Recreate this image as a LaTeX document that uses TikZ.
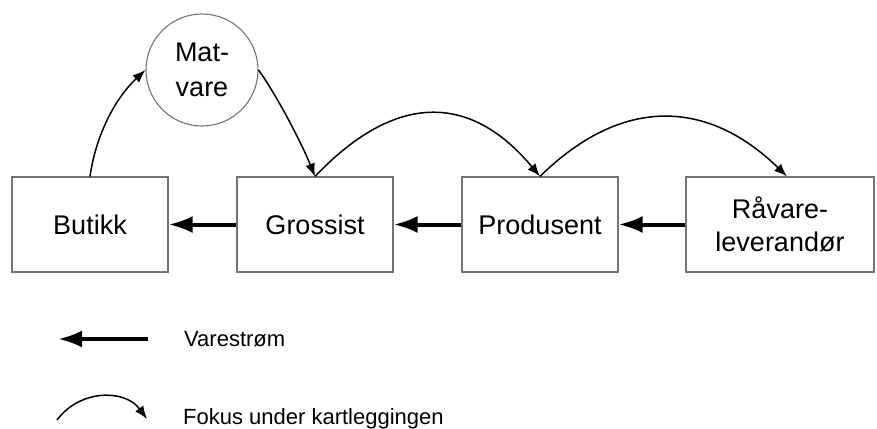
\documentclass[tikz,border=0pt]{standalone}
\usepackage{fontspec}
\setmainfont{Liberation Sans}
\usetikzlibrary{arrows.meta}
\tikzset{
  box/.style={draw=black!55, line width=1.1pt, minimum width=156pt, minimum height=95pt, inner sep=0pt, align=center, font=\fontsize{27}{33}\selectfont},
  circ/.style={circle, draw=black!55, line width=1.1pt, minimum size=112pt, inner sep=0pt, align=center, font=\fontsize{27}{35}\selectfont},
  flow/.style={line width=4pt, -{Latex[length=24pt,width=17pt]}},
  focus/.style={line width=1.5pt, -{Latex[length=13pt,width=10pt]}},
  legtext/.style={anchor=base west, inner sep=0pt, font=\fontsize{22}{26}\selectfont}
}
\begin{document}
\begin{tikzpicture}[x=1pt, y=-1pt]
\useasboundingbox (0,0) rectangle (877,428);
\node[box] (b) at (90,224.5) {Butikk};
\node[box] (g) at (315,224.5) {Grossist};
\node[box] (p) at (540,224.5) {Produsent};
\node[box, minimum width=188pt] (r) at (780,224.5) {Råvare-\\leverandør};
\node[circ] (m) at (202,70) {Mat-\\vare};
\draw[flow] (g.west) -- (b.east);
\draw[flow] (p.west) -- (g.east);
\draw[flow] (r.west) -- (p.east);
\draw[focus] (b.north) .. controls +(6,-42) and +(-30,28) .. (m.west);
\draw[focus] (m.east) .. controls +(20,28) and +(-12,-30) .. (g.north);
\draw[focus] (g.north) .. controls +(80,-84) and +(-70,-84) .. (p.north);
\draw[focus] (p.north) .. controls +(80,-79) and +(-81,-79) .. ([xshift=7pt]r.north);
\coordinate (la1) at (148,339);
\coordinate (la2) at (58,339);
\draw[flow] (la1) -- (la2);
\coordinate (lb1) at (57,420);
\coordinate (lb2) at (147,419);
\draw[focus] (lb1) .. controls +(23,-31) and +(-22,-30) .. (lb2);
\node[legtext] (t1) at (184,346) {Varestrøm};
\node[legtext] (t2) at (183,424) {Fokus under kartleggingen};
\end{tikzpicture}
\end{document}
